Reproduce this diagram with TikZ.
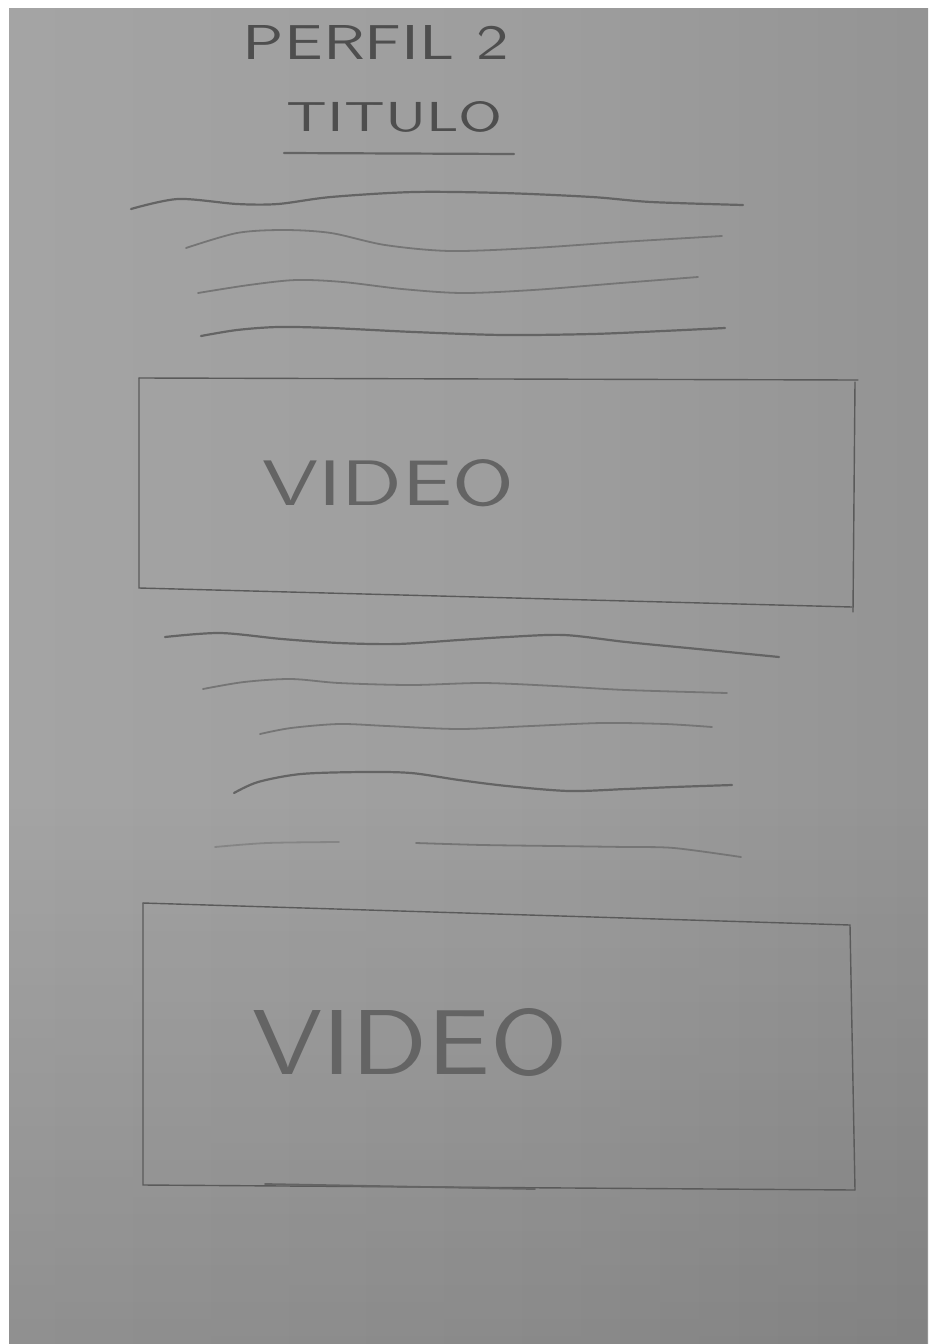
\documentclass[tikz,border=0pt]{standalone}
\usepackage{graphicx}
\usetikzlibrary{fadings}

\definecolor{paperL}{RGB}{170,170,170}
\definecolor{paperM}{RGB}{157,157,157}
\definecolor{paperR}{RGB}{128,128,128}
\definecolor{pencil}{RGB}{100,100,100}
\definecolor{pencilDark}{RGB}{78,78,78}

\pgfdeclarehorizontalshading{paper}{100bp}{color(0bp)=(paperL);
    color(55bp)=(paperM); color(82bp)=(paperM!92!black); color(100bp)=(paperR)}

\begin{document}
\begin{tikzpicture}[
    x=0.5pt, y=-0.5pt,
    % Stroke styles
    pencil line/.style={
        draw=pencil, line width=1.1pt, line cap=round, line join=round,
    },
    faint line/.style={
        draw=pencil!70!paperM, line width=0.9pt, line cap=round,
    },
    frame/.style={
        draw=pencilDark!85!paperM, line width=0.7pt, line cap=round,
    },
    % Text styles
    hand/.style={
        inner sep=0pt, text=pencilDark, font=\sffamily,
    },
]

% === Page and paper ===
\useasboundingbox (0,0) rectangle (928,1344);
\fill[white] (0,0) rectangle (928,1344);
\shade[shading=paper] (9,8) rectangle (928,1344);
\fill[black, path fading=north, fill opacity=0.12] (9,800) rectangle (928,1344);

% === Heading ===
\node[hand] (perfil) at (376,42) {\resizebox{133pt}{17pt}{PERFIL 2}};
\node[hand] (titulo) at (395,117) {\resizebox{108pt}{15pt}{TITULO}};
\coordinate (ulA) at (284,153);
\coordinate (ulB) at (514,154);
\draw[pencil line] (ulA) -- (ulB);

% === Text lines above first video ===
\draw[pencil line] plot[smooth] coordinates {(131,209) (178,199) (237,204)
    (278,204) (331,197) (414,192) (503,193) (592,197) (651,202) (743,205)};
\draw[faint line] plot[smooth] coordinates {(186,248) (237,233) (284,230)
    (331,233) (385,245) (450,251) (533,248) (621,242) (722,236)};
\draw[faint line] plot[smooth] coordinates {(198,293) (249,285) (296,280)
    (343,282) (402,289) (462,293) (533,290) (621,283) (698,277)};
\draw[pencil line] plot[smooth] coordinates {(201,336) (237,330) (278,327)
    (331,328) (414,332) (503,335) (592,334) (663,331) (725,328)};

% === First video box ===
\draw[frame] (139,378) -- (858,380);
\draw[frame] (139,378) -- (139,588) -- (852,607);
\draw[frame] (855,382) -- (853,612);
\node[hand, text=pencil] (video1) at (388,483) {\resizebox{126pt}{23pt}{VIDEO}};

% === Text lines between videos ===
\draw[pencil line] plot[smooth] coordinates {(165,637) (220,633) (282,639)
    (339,643) (397,644) (459,640) (507,637) (564,635) (626,642) (698,649) (779,657)};
\draw[faint line] plot[smooth] coordinates {(203,689) (244,682) (291,679)
    (339,683) (411,685) (483,683) (555,686) (626,690) (727,693)};
\draw[faint line] plot[smooth] coordinates {(260,734) (291,728) (339,724)
    (387,726) (459,729) (531,726) (602,723) (665,724) (712,727)};
\draw[pencil line] plot[smooth] coordinates {(234,793) (258,782) (301,774)
    (363,772) (411,773) (459,780) (507,786) (569,791) (626,789) (674,787) (732,785)};
\draw[faint line, draw opacity=0.6] plot[smooth] coordinates {(215,847) (267,843) (339,842)};
\draw[faint line] plot[smooth] coordinates {(416,843) (483,845) (555,846)
    (626,847) (674,848) (741,857)};

% === Second video box ===
\draw[frame] (143,903) -- (850,925) -- (855,1190);
\draw[frame] (143,903) -- (143,1185) -- (855,1190);
\draw[pencil line, line width=0.9pt] (265,1184) -- (535,1189);
\node[hand, text=pencil] (video2) at (410,1042) {\resizebox{158pt}{33pt}{VIDEO}};

\end{tikzpicture}
\end{document}
